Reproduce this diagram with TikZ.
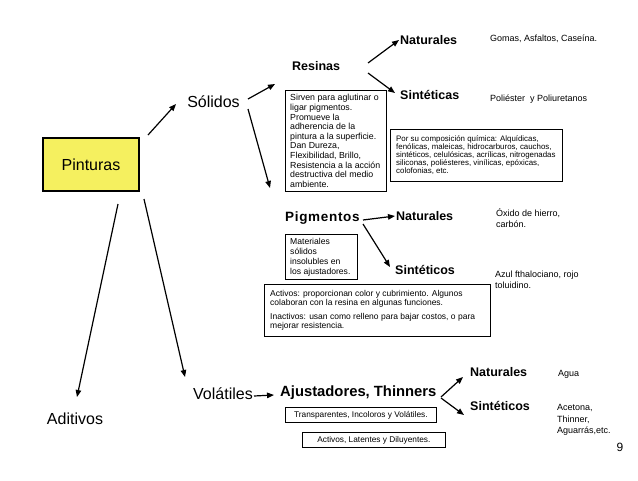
\documentclass[tikz,border=0pt]{standalone}
\usepackage{fontspec}
\setmainfont{Liberation Sans}
\newfontfamily\pigfont[LetterSpace=5]{Liberation Sans}
\usetikzlibrary{arrows.meta}
\definecolor{pyellow}{RGB}{245,240,95}
\begin{document}
\begin{tikzpicture}[x=1pt,y=-1pt,
  arr/.style={line width=1.2pt,-{Triangle[length=7pt,width=5.5pt]}},
  big/.style={inner sep=0,font=\fontsize{16}{18}\selectfont},
  hd/.style={inner sep=0,font=\fontsize{12.5}{14}\selectfont\bfseries,anchor=west},
  sm/.style={inner sep=0,font=\fontsize{9}{11}\selectfont,anchor=west,align=left},
  boxtxt/.style={inner sep=0,anchor=west,align=left},
  bx/.style={draw,line width=0.8pt,inner sep=0,anchor=north west}]
\useasboundingbox (0,0) rectangle (638,480);
\fill[white] (0,0) rectangle (638,480);

% main nodes
\node[draw,line width=2.4pt,fill=pyellow,minimum width=96pt,minimum height=53pt,inner sep=0,
      font=\fontsize{16}{18}\selectfont] (pint) at (91,164.5) {Pinturas};
\node[big] (sol) at (213.5,102) {Sólidos};
\node[big] (adit) at (75,419) {Aditivos};
\node[big] (vol) at (223,394) {Volátiles};

% Resinas branch
\node[hd] (res) at (292,66) {Resinas};
\node[hd] (natR) at (400,40) {Naturales};
\node[hd] (sinR) at (400,95) {Sintéticas};
\node[sm] (gomas) at (490,39) {Gomas, Asfaltos, Caseína.};
\node[sm] (poli) at (490,99) {Poliéster~ y Poliuretanos};

\node[bx,minimum width=101pt,minimum height=101pt] (solbox) at (285,90) {};
\node[boxtxt,font=\fontsize{8.8}{9.6}\selectfont] (soltxt) at ([xshift=5pt]solbox.west)
  {Sirven para aglutinar o\\ligar pigmentos.\\Promueve la\\adherencia de la\\pintura a la superficie.\\Dan Dureza,\\Flexibilidad, Brillo,\\Resistencia a la acción\\destructiva del medio\\ambiente.};

\node[bx,minimum width=172pt,minimum height=52pt] (compbox) at (390,129) {};
\node[boxtxt,font=\fontsize{7.9}{8}\selectfont] (comptxt) at ([xshift=6pt]compbox.west)
  {Por su composición química: Alquídicas,\\fenólicas, maleicas, hidrocarburos, cauchos,\\sintéticos, celulósicas, acrílicas, nitrogenadas\\siliconas, poliésteres, vinílicas, epóxicas,\\colofonias, etc.};

% Pigmentos branch
\node[inner sep=0,anchor=west,font=\fontsize{13.5}{15}\selectfont\pigfont\bfseries] (pig) at (285,218) {Pigmentos};
\node[hd] (natP) at (396,216) {Naturales};
\node[hd] (sinP) at (395,270) {Sintéticos};
\node[sm] (oxido) at (496,218.5) {Óxido de hierro,\\carbón.};
\node[sm] (azul) at (495,279.5) {Azul fthalociano, rojo\\toluidino.};

\node[bx,minimum width=72pt,minimum height=45pt] (pigbox) at (285,234) {};
\node[boxtxt,font=\fontsize{8.6}{10}\selectfont] (pigtxt) at ([xshift=5pt]pigbox.west)
  {Materiales\\sólidos\\insolubles en\\los ajustadores.};

\node[bx,minimum width=226pt,minimum height=52pt] (actbox) at (264,284) {};
\node[boxtxt,font=\fontsize{8.5}{9.5}\selectfont] (acttxt) at ([xshift=6pt]actbox.west)
  {Activos: proporcionan color y cubrimiento. Algunos\\colaboran con la resina en algunas funciones.\\[4pt]Inactivos: usan como relleno para bajar costos, o para\\mejorar resistencia.};

% Volatiles branch
\node[inner sep=0,anchor=west,font=\fontsize{14.8}{17}\selectfont\bfseries] (ajus) at (280,393) {Ajustadores, Thinners};
\node[hd] (natV) at (470,372) {Naturales};
\node[hd] (sinV) at (470,406) {Sintéticos};
\node[sm] (agua) at (558,374) {Agua};
\node[sm,font=\fontsize{9}{11.5}\selectfont] (acet) at (557,420) {Acetona,\\Thinner,\\Aguarrás,etc.};
\node[bx,minimum width=151pt,minimum height=15pt,font=\fontsize{8.3}{10}\selectfont] (trans) at (285,407) {Transparentes, Incoloros y Volátiles.};
\node[bx,minimum width=143pt,minimum height=15pt,font=\fontsize{8.3}{10}\selectfont] (actv) at (302,432) {Activos, Latentes y Diluyentes.};
\node[inner sep=0,font=\fontsize{12}{14}\selectfont] (nine) at (620,447) {9};

% connectors
\draw[arr] ([shift={(57,-29.5)}]pint.center) -- ([shift={(-37.5,2)}]sol.center);
\draw[arr] ([shift={(34.5,-3)}]sol.center) -- ([shift={(-17,18)}]res.west);
\draw[arr] ([shift={(34.5,7)}]sol.center) -- ([shift={(-15,-30)}]pig.west);
\draw[arr] ([shift={(27,39.5)}]pint.center) -- ([shift={(2,-22)}]adit.center);
\draw[arr] ([shift={(53,34.5)}]pint.center) -- ([shift={(-38,-17)}]vol.center);
\draw[arr] ([shift={(31,2)}]vol.center) -- ([shift={(-6,2)}]ajus.west);
\draw[arr] ([shift={(76,-3)}]res.west) -- ([shift={(-1,0)}]natR.west);
\draw[arr] ([shift={(76,7)}]res.west) -- ([shift={(-5,-2)}]sinR.west);
\draw[arr] ([shift={(78,2)}]pig.west) -- ([shift={(-1,0)}]natP.west);
\draw[arr] ([shift={(78,6)}]pig.west) -- ([shift={(-5,-3)}]sinP.west);
\draw[arr] ([shift={(161,4)}]ajus.west) -- ([shift={(-7,5)}]natV.west);
\draw[arr] ([shift={(161,5)}]ajus.west) -- ([shift={(-6,9)}]sinV.west);
\end{tikzpicture}
\end{document}
